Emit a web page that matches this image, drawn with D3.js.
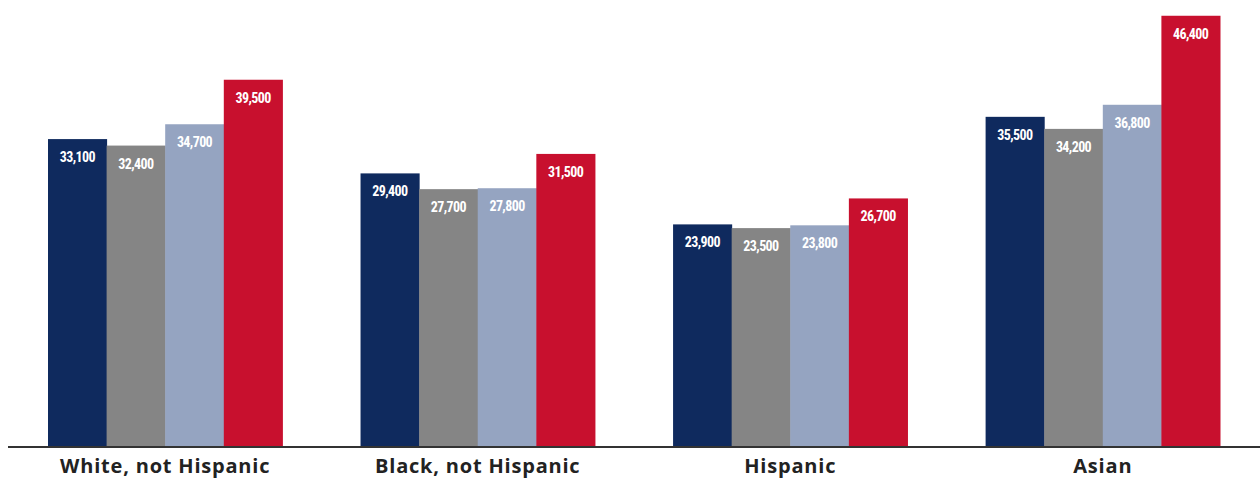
<!DOCTYPE html>
<html>
<head>
<meta charset="utf-8">
<script src="https://cdn.jsdelivr.net/npm/d3@7"></script>
<style>
  html, body { margin: 0; padding: 0; background: #fff; }
  svg { display: block; }
</style>
</head>
<body>
<svg id="chart" width="1260" height="479"></svg>
<script>
// groups along the x axis
const categories = ["White, not Hispanic", "Black, not Hispanic", "Hispanic", "Asian"];
// four series per group (left to right)
const seriesKeys = ["s1", "s2", "s3", "s4"];
const seriesColors = ["#0f2a5e", "#858585", "#95a4c1", "#c8102e"];
const seriesValues = [
  [33100, 29400, 23900, 35500],
  [32400, 27700, 23500, 34200],
  [34700, 27800, 23800, 36800],
  [39500, 31500, 26700, 46400]
];

const W = 1260, H = 479;
const baseY = 446;
const svg = d3.select("#chart");

const x0 = d3.scaleBand()
  .domain(categories)
  .range([48, 1220])
  .paddingInner(0.25)
  .paddingOuter(0);

const x1 = d3.scaleBand()
  .domain(seriesKeys)
  .range([0, x0.bandwidth()])
  .padding(0);

const y = d3.scaleLinear()
  .domain([0, 48100])
  .range([baseY, 0]);

const fmt = d3.format(",");

const rows = categories.map((c, ci) => ({
  cat: c,
  vals: seriesKeys.map((k, si) => ({ key: k, si: si, v: seriesValues[si][ci] }))
}));

const g = svg.selectAll("g.grp")
  .data(rows)
  .join("g")
  .attr("class", "grp")
  .attr("transform", d => `translate(${x0(d.cat)},0)`);

g.selectAll("rect")
  .data(d => d.vals)
  .join("rect")
  .attr("x", d => x1(d.key))
  .attr("y", d => y(d.v))
  .attr("width", x1.bandwidth() + 0.5)
  .attr("height", d => baseY - y(d.v))
  .attr("fill", d => seriesColors[d.si]);

g.selectAll("text.val")
  .data(d => d.vals)
  .join("text")
  .attr("class", "val")
  .attr("x", d => x1(d.key) + x1.bandwidth() / 2)
  .attr("y", d => y(d.v) + 23)
  .attr("text-anchor", "middle")
  .attr("fill", "#fff")
  .style("font-family", "'Liberation Sans Narrow', 'Roboto Condensed', 'DejaVu Sans Condensed', sans-serif")
  .style("font-weight", "bold")
  .style("font-size", "14px")
  .style("letter-spacing", "-0.6px")
  .text(d => fmt(d.v));

// axis line + category labels
const xAxis = d3.axisBottom(x0).tickSize(0);
const ax = svg.append("g")
  .attr("transform", `translate(0,${baseY})`)
  .call(xAxis);

ax.select(".domain").remove();
ax.append("line")
  .attr("x1", 8).attr("x2", W)
  .attr("y1", 1).attr("y2", 1)
  .attr("stroke", "#333")
  .attr("stroke-width", 2);

ax.selectAll(".tick text")
  .attr("y", 27)
  .attr("dy", 0)
  .attr("fill", "#222")
  .style("font-family", "'Open Sans', sans-serif")
  .style("font-weight", "bold")
  .style("font-size", "20px")
  .style("letter-spacing", "0.8px");
</script>
</body>
</html>
